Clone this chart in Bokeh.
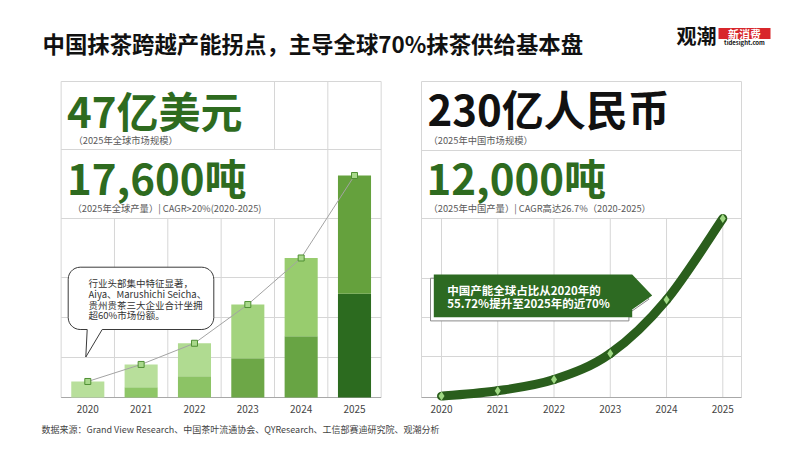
import numpy as np
from bokeh.plotting import figure
from bokeh.models import Range1d
from bokeh.core.properties import value
from bokeh.embed import file_html
from bokeh.resources import INLINE

# ---------------- data ----------------
years = [2020, 2021, 2022, 2023, 2024, 2025]
year_labels = ["2020", "2021", "2022", "2023", "2024", "2025"]
# global matcha output (tons): total bar height and darker lower segment
global_total = [1270, 2620, 4300, 7370, 11060, 17600]
global_lower = [0, 820, 1690, 3120, 4860, 8220]
# china matcha output (tons)
china_output = [3070, 3340, 3900, 5210, 7910, 12000]

title = "中国抹茶跨越产能拐点，主导全球70%抹茶供给基本盘"
left_big1 = "47亿美元"
left_cap1 = "（2025年全球市场规模）"
left_big2 = "17,600吨"
left_cap2 = "（2025年全球产量）| CAGR>20%(2020-2025)"
right_big1 = "230亿人民币"
right_cap1 = "（2025年中国市场规模）"
right_big2 = "12,000吨"
right_cap2 = "（2025年中国产量）| CAGR高达26.7%（2020-2025）"
bubble_lines = ["行业头部集中特征显著，", "Aiya、Marushichi Seicha、",
                "贵州贵茶三大企业合计坐拥", "超60%市场份额。"]
callout_lines = ["中国产能全球占比从2020年的", "55.72%提升至2025年的近70%"]
source = "数据来源：Grand View Research、中国茶叶流通协会、QYResearch、工信部赛迪研究院、观潮分析"

# ---------------- styles ----------------
top_colors = ["#b8df9b", "#b8df9b", "#b0db91", "#a3d37e", "#98cc6e", "#65a13d"]
bottom_colors = ["#8ec667", "#8ec667", "#8cc365", "#6da747", "#68a444", "#2c6b1f"]
DARK_GREEN = "#2e6b1f"
GRID = "#d6d6d6"
AXIS = "#a8a8a8"
F = value("Noto Sans CJK SC")

W, H = 784, 435
PX0, PX1, PY0, PY1 = 0, W, H, 0  # page pixel extents of the frame


def lin_range(v0, p0, v1, p1, lo, hi):
    s = (v1 - v0) / (p1 - p0)
    return Range1d(start=v0 + (lo - p0) * s, end=v0 + (hi - p0) * s)


p = figure(width=W, height=H, x_range=Range1d(PX0, PX1), y_range=Range1d(PY0, PY1),
           output_backend="svg", toolbar_location=None, min_border=0,
           x_axis_location=None, y_axis_location=None)
p.grid.visible = False
p.outline_line_color = None
p.background_fill_color = "white"
p.border_fill_color = "white"

p.extra_x_ranges = {
    "lx": lin_range(years[0], 87.3, years[-1], 354.0, PX0, PX1),
    "rx": lin_range(years[0], 441.0, years[-1], 722.3, PX0, PX1),
}
p.extra_y_ranges = {
    "ly": lin_range(0, 397, 17600, 175, PY0, PY1),
    "ry": lin_range(3000, 397, 12000, 218, PY0, PY1),
}

# ---------------- left panel grid ----------------
b = [y - 0.5 for y in years] + [years[-1] + 0.5]
vx, vy0, vy1 = [], [], []
for xb in b[1:-1]:
    vx.append(xb); vy0.append(218); vy1.append(397)
for xb in (b[0], b[-1]):
    vx.append(xb); vy0.append(81); vy1.append(397)
vx += [b[4], b[5]]; vy0 += [81, 81]; vy1 += [149, 218]
p.segment(x0=vx, y0=vy0, x1=vx, y1=vy1, x_range_name="lx",
          line_color=GRID, line_width=1)
hy = [81, 149, 218, 277, 317, 357]
p.segment(x0=[b[0]] * len(hy), y0=hy, x1=[b[-1]] * len(hy), y1=hy,
          x_range_name="lx", line_color=GRID, line_width=1)
p.segment(x0=[b[0]], y0=[397], x1=[b[-1]], y1=[397], x_range_name="lx",
          line_color=AXIS, line_width=1)

# ---------------- right panel grid ----------------
p.segment(x0=years, y0=[218] * 6, x1=years, y1=[397] * 6, x_range_name="rx",
          line_color=GRID, line_width=1)
p.segment(x0=[421, 741], y0=[81, 81], x1=[421, 741], y1=[397, 397],
          line_color=GRID, line_width=1)
rhy = [81, 150, 218, 278, 317, 356]
p.segment(x0=[421] * len(rhy), y0=rhy, x1=[741] * len(rhy), y1=rhy,
          line_color=GRID, line_width=1)
p.segment(x0=[421], y0=[397], x1=[741], y1=[397], line_color=AXIS, line_width=1)

# ---------------- bars ----------------
p.vbar(x=years, bottom=0, top=global_lower, width=0.62, fill_color=bottom_colors,
       line_color=None, x_range_name="lx", y_range_name="ly")
p.vbar(x=years, bottom=global_lower, top=global_total, width=0.62, fill_color=top_colors,
       line_color=None, x_range_name="lx", y_range_name="ly")
p.line(years, global_total, line_color="#a3a3a3", line_width=1,
       x_range_name="lx", y_range_name="ly")
p.scatter(years, global_total, marker="square", size=6, fill_color="#a9d98b",
          line_color="#4f8f33", line_width=1, x_range_name="lx", y_range_name="ly")

# ---------------- left speech bubble ----------------
def bubble(x0, x1, y0, y1, r, tail_r, tail_tip, tail_l):
    pts = []
    def arc(cx, cy, a0, a1):
        for t in np.linspace(np.radians(a0), np.radians(a1), 8):
            pts.append((cx + r * np.cos(t), cy + r * np.sin(t)))
    pts.append((x0 + r, y0)); pts.append((x1 - r, y0))
    arc(x1 - r, y0 + r, -90, 0)
    pts.append((x1, y1 - r))
    arc(x1 - r, y1 - r, 0, 90)
    pts.append((tail_r, y1)); pts.append(tail_tip); pts.append((tail_l, y1))
    arc(x0 + r, y1 - r, 90, 180)
    pts.append((x0, y0 + r))
    arc(x0 + r, y0 + r, 180, 270)
    return [q[0] for q in pts], [q[1] for q in pts]

bx, by = bubble(67.7, 213.3, 266.7, 329, 12, 101.7, (85.3, 356.5), 86.7)
p.patch(bx, by, fill_color="white", line_color="#3a3a3a", line_width=1)
p.text(x=[88] * 4, y=[282.3, 293.3, 304, 314.5], text=bubble_lines, text_font=F,
       text_font_size="9.5px", text_color="#333333", text_baseline="middle",
       text_align="left")

# ---------------- right curve ----------------
xs = [float(v) for v in years]
ys = [float(v) for v in china_output]
n = len(xs)
bz = dict(x0=[], y0=[], x1=[], y1=[], cx0=[], cy0=[], cx1=[], cy1=[])
for i in range(n - 1):
    a = i - 1 if i > 0 else i
    d = i + 2 if i + 2 < n else i + 1
    bz["x0"].append(xs[i]); bz["y0"].append(ys[i])
    bz["x1"].append(xs[i + 1]); bz["y1"].append(ys[i + 1])
    bz["cx0"].append(xs[i] + (xs[i + 1] - xs[a]) / 6)
    bz["cy0"].append(ys[i] + (ys[i + 1] - ys[a]) / 6)
    bz["cx1"].append(xs[i + 1] - (xs[d] - xs[i]) / 6)
    bz["cy1"].append(ys[i + 1] - (ys[d] - ys[i]) / 6)
p.bezier(**bz, line_color="#2a5e1c", line_width=9, line_cap="round",
         x_range_name="rx", y_range_name="ry")
p.scatter(years, china_output, marker="diamond", size=9, fill_color="#9fd883",
          line_color=None, x_range_name="rx", y_range_name="ry")

# ---------------- right callout ----------------
gx = [433.3, 631.7, 651.7, 631.7, 631.7, 433.3]
gy = [274, 274, 295, 309, 316.7, 316.7]
p.patch([v - 3.3 for v in gx], [v + 3.7 for v in gy], fill_color="white",
        line_color="#8a8a8a", line_width=1)
p.patch(gx, gy, fill_color="#2d6a22", line_color=None)
p.text(x=[446.7, 446.7], y=[289, 302.7], text=callout_lines, text_font=F,
       text_font_size="11.5px", text_font_style="bold", text_color="white",
       text_baseline="middle", text_align="left")

# ---------------- year labels ----------------
p.text(x=years, y=[408.5] * 6, text=year_labels, text_font=F, text_font_size="10px",
       text_color="#444444", text_align="center", text_baseline="middle",
       x_range_name="lx")
p.text(x=years, y=[408.5] * 6, text=year_labels, text_font=F, text_font_size="10px",
       text_color="#444444", text_align="center", text_baseline="middle",
       x_range_name="rx")

# ---------------- headline numbers & captions ----------------
p.text(x=[66.5, 66.5], y=[108.5, 175.5], text=[left_big1, left_big2], text_font=F,
       text_font_size="42px", text_font_style="bold", text_color=DARK_GREEN,
       text_baseline="middle", text_align="left")
p.text(x=[427], y=[106.5], text=[right_big1], text_font=F,
       text_font_size="42px", text_font_style="bold", text_color="#111111",
       text_baseline="middle", text_align="left")
p.text(x=[426], y=[175.5], text=[right_big2], text_font=F,
       text_font_size="42px", text_font_style="bold", text_color=DARK_GREEN,
       text_baseline="middle", text_align="left")
p.text(x=[73, 72, 428, 428], y=[139, 207.5, 139, 207.5],
       text=[left_cap1, left_cap2, right_cap1, right_cap2], text_font=F,
       text_font_size="9.3px", text_color="#5a5a5a", text_baseline="middle",
       text_align="left")

# ---------------- title, logo, source ----------------
p.text(x=[42], y=[42], text=[title], text_font=F, text_font_size="22.4px",
       text_font_style="bold", text_color="#111111", text_baseline="middle",
       text_align="left")
p.text(x=[676], y=[35], text=["观潮"], text_font=F, text_font_size="20px",
       text_font_style="bold", text_color="#111111", text_baseline="middle",
       text_align="left")
p.quad(left=[718], right=[770], top=[27.5], bottom=[38.5], fill_color="#d8262b",
       line_color=None)
p.text(x=[744], y=[33], text=["新消费"], text_font=F, text_font_size="11px",
       text_font_style="bold", text_color="white", text_baseline="middle",
       text_align="center")
p.text(x=[744], y=[41.5], text=["tidesight.com"], text_font=F, text_font_size="6px",
       text_font_style="bold", text_color="#111111", text_baseline="middle",
       text_align="center")
p.text(x=[41], y=[428.5], text=[source], text_font=F, text_font_size="9px",
       text_color="#444444", text_baseline="middle", text_align="left")

open("out.html", "w").write(file_html(p, INLINE))
